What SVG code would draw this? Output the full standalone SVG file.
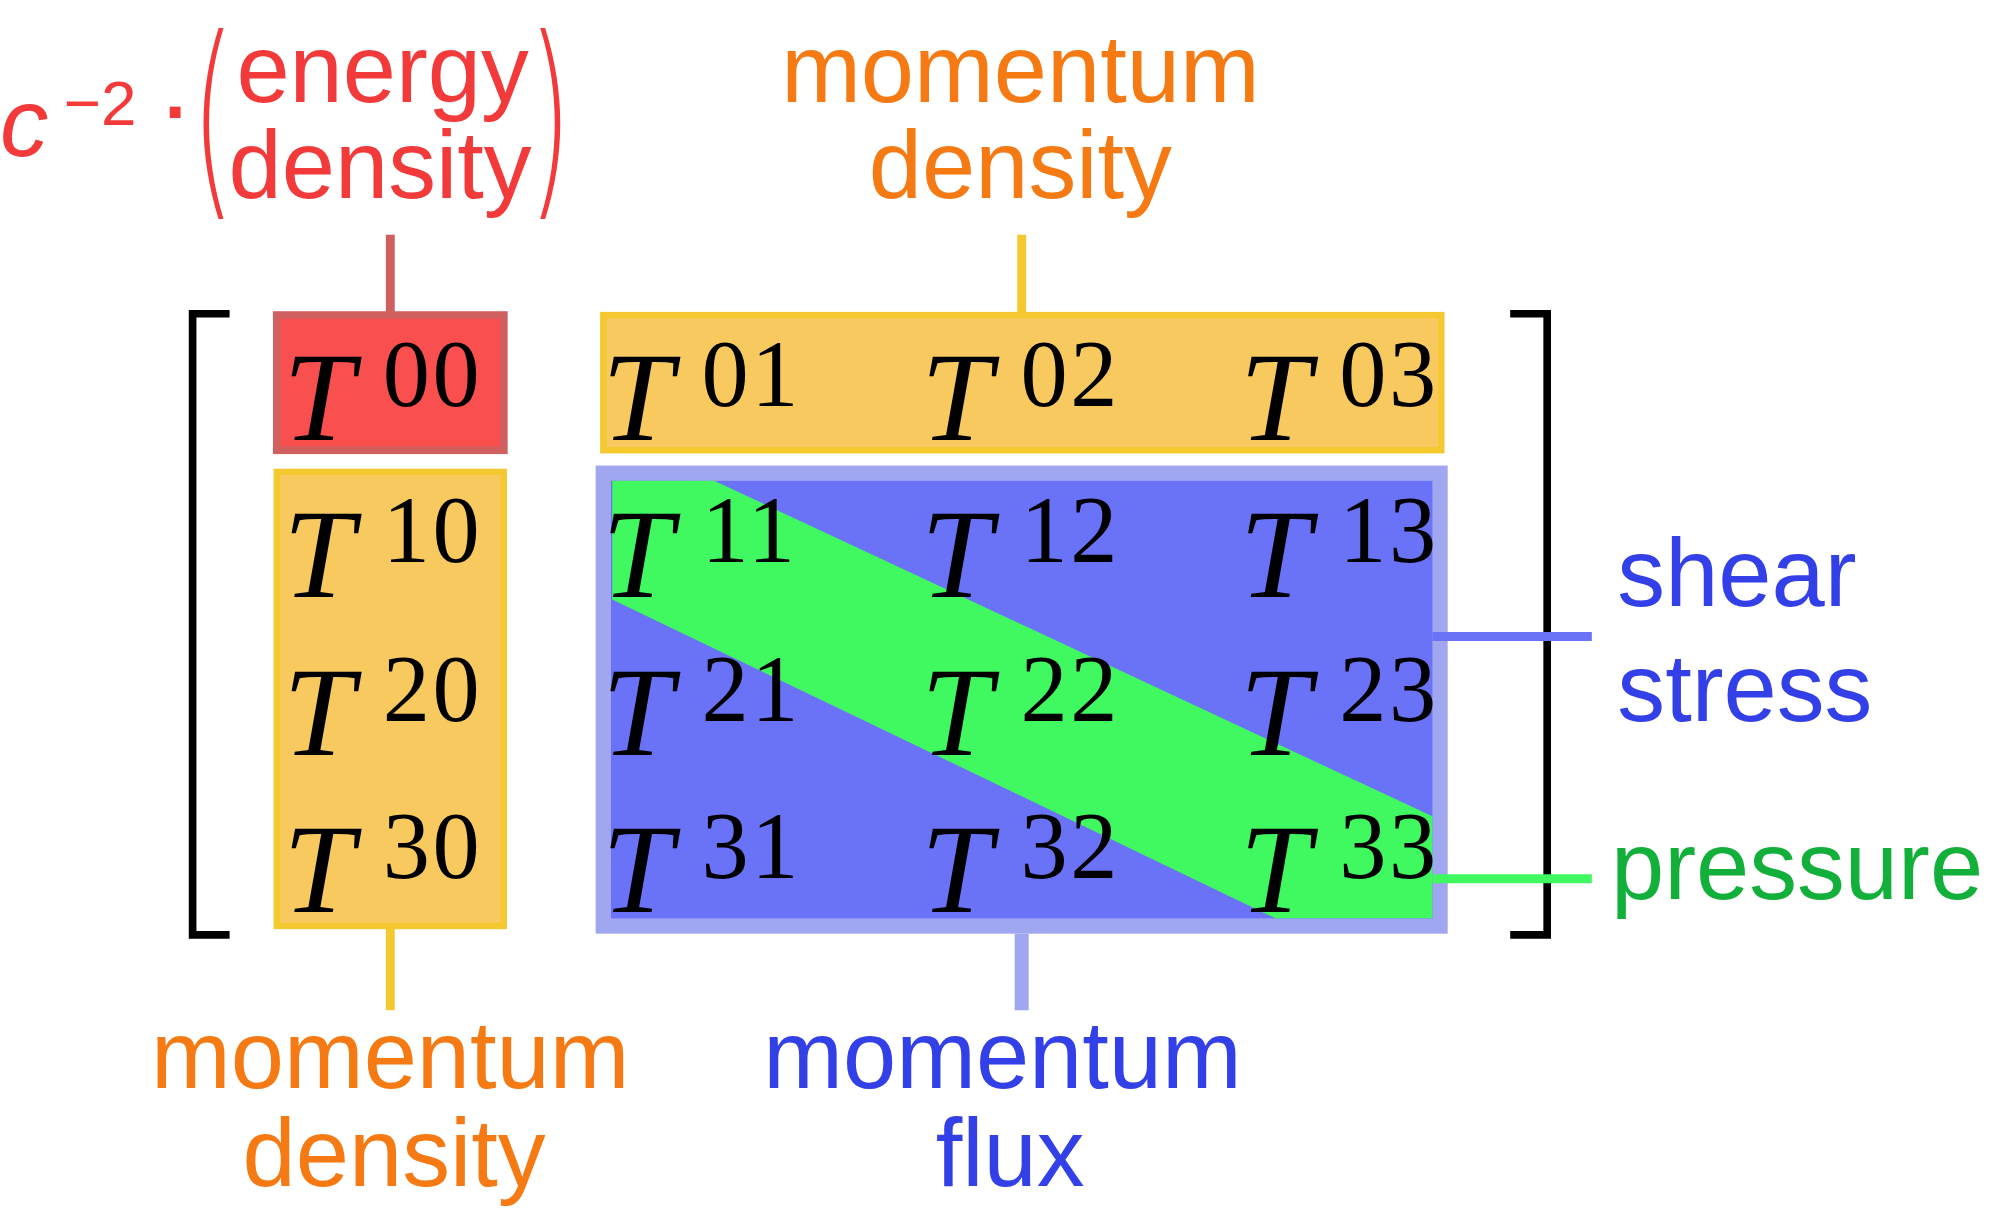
<svg xmlns="http://www.w3.org/2000/svg" width="2000" height="1212" viewBox="0 0 2000 1212">
<style>
.t{font-family:"Liberation Serif","DejaVu Serif",serif;font-style:italic;font-size:100px;fill:#000}
.s{font-family:"Liberation Serif","DejaVu Serif",serif;font-size:74px;fill:#000;letter-spacing:2px}
.l{font-family:"Liberation Sans",Arial,sans-serif;font-size:75px}
.or{fill:#f57a14}.rd{fill:#f23a3a}.bl{fill:#3340e8}.gr{fill:#12b03a}
.p{font-family:"DejaVu Sans",sans-serif;font-weight:200;font-size:160px}
</style>
<rect width="2000" height="1212" fill="#fff"/>
<g transform="scale(1.2755)">
<g id="brackets" fill="none" stroke="#000" stroke-width="6">
<polyline points="180,246 151,246 151,733 180,733"/>
<polyline points="1184,246 1213,246 1213,733 1184,733"/>
</g>
<g id="n00"><rect x="217" y="247" width="178" height="106" fill="#f94f4f" stroke="#d06060" stroke-width="6"/></g>
<g id="top"><rect x="473" y="247" width="657" height="106" fill="#f7c95e" stroke="#f5c830" stroke-width="5"/></g>
<g id="left"><rect x="217" y="370" width="178" height="356" fill="#f7c95e" stroke="#f5c830" stroke-width="5"/></g>
<g id="flux"><rect x="473" y="371" width="656" height="355" fill="#6a72f8" stroke="#a0a6f0" stroke-width="12"/>
<polygon points="480,377 560,377 1123,640 1123,720 1000,720 480,470" fill="#40f860"/></g>
<g id="connectors" fill="none">
<line x1="306" y1="184" x2="306" y2="245" stroke="#d06060" stroke-width="7"/>
<line x1="801" y1="184" x2="801" y2="245" stroke="#f5c830" stroke-width="7"/>
<line x1="306" y1="728" x2="306" y2="792" stroke="#f5c830" stroke-width="7"/>
<line x1="801" y1="732" x2="801" y2="792" stroke="#a0a6f0" stroke-width="11"/>
<line x1="1123" y1="499" x2="1248" y2="499" stroke="#6a72f8" stroke-width="7"/>
<line x1="1123" y1="689" x2="1248" y2="689" stroke="#40f860" stroke-width="7"/>
</g>
<g id="labels">
<text class="t" x="222" y="345">T</text><text class="s" x="300" y="318">00</text>
<text class="t" x="472" y="345">T</text><text class="s" x="550" y="318">01</text>
<text class="t" x="722" y="345">T</text><text class="s" x="800" y="318">02</text>
<text class="t" x="972" y="345">T</text><text class="s" x="1050" y="318">03</text>
<text class="t" x="222" y="468">T</text><text class="s" x="300" y="441">10</text>
<text class="t" x="472" y="468">T</text><text class="s" x="550" y="441">11</text>
<text class="t" x="722" y="468">T</text><text class="s" x="800" y="441">12</text>
<text class="t" x="972" y="468">T</text><text class="s" x="1050" y="441">13</text>
<text class="t" x="222" y="592">T</text><text class="s" x="300" y="565">20</text>
<text class="t" x="472" y="592">T</text><text class="s" x="550" y="565">21</text>
<text class="t" x="722" y="592">T</text><text class="s" x="800" y="565">22</text>
<text class="t" x="972" y="592">T</text><text class="s" x="1050" y="565">23</text>
<text class="t" x="222" y="715">T</text><text class="s" x="300" y="688">30</text>
<text class="t" x="472" y="715">T</text><text class="s" x="550" y="688">31</text>
<text class="t" x="722" y="715">T</text><text class="s" x="800" y="688">32</text>
<text class="t" x="972" y="715">T</text><text class="s" x="1050" y="688">33</text>
</g>
<g id="energy" class="l rd">
<text x="0" y="122" font-style="italic" font-size="76">c</text>
<text x="50" y="98" font-size="50">−2</text>
<text x="129" y="108" font-size="60" font-weight="bold">·</text>
<text class="p" transform="translate(150,150) scale(0.55,1.05)">(</text>
<text x="300" y="80" text-anchor="middle">energy</text>
<text x="298" y="155" text-anchor="middle">density</text>
<text class="p" transform="translate(414,150) scale(0.55,1.05)">)</text>
</g>
<g id="momTop" class="l or"><text x="800" y="80" text-anchor="middle">momentum</text><text x="800" y="155" text-anchor="middle">density</text></g>
<g id="momBot" class="l or"><text x="306" y="853" text-anchor="middle">momentum</text><text x="309" y="930" text-anchor="middle">density</text></g>
<g id="fluxL" class="l bl"><text x="786" y="853" text-anchor="middle">momentum</text><text x="792" y="930" text-anchor="middle">flux</text></g>
<g id="shear" class="l bl"><text x="1268" y="475">shear</text><text x="1268" y="565">stress</text></g>
<g id="press" class="l gr"><text x="1263" y="705">pressure</text></g>
</g>
</svg>
